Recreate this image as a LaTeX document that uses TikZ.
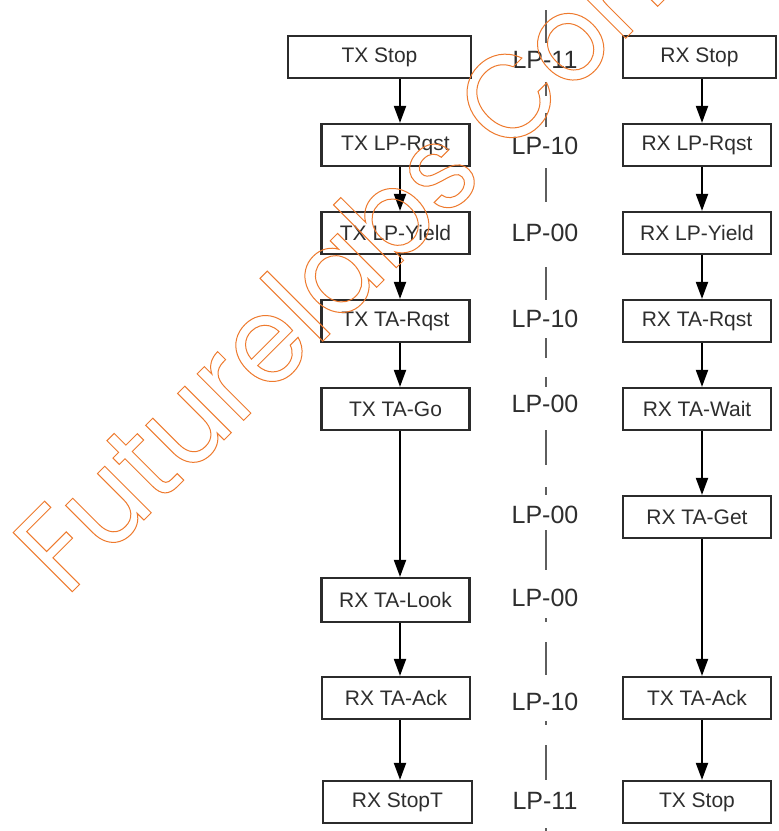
\documentclass[tikz,border=0pt]{standalone}
\usepackage{fontspec}
\setmainfont{Liberation Sans}
\newfontfamily\wmfont[FakeStretch=0.94]{Poppins}
\usetikzlibrary{arrows.meta}
\definecolor{boxline}{HTML}{2B2B2B}
\definecolor{boxtext}{HTML}{2E2E2E}
\definecolor{dashcol}{HTML}{5E5E5E}
\definecolor{wmcol}{HTML}{EE7A2E}
\tikzset{
  statebox/.style={draw=boxline, line width=2.2pt, fill=white, text=boxtext,
    minimum width=148pt, minimum height=42pt, inner sep=0pt,
    font=\fontsize{21}{24}\selectfont},
  lplabel/.style={text=boxtext, inner sep=0pt, font=\fontsize{25}{28}\selectfont},
  flow/.style={draw=black, line width=2pt, -{Triangle[width=12pt,length=17pt]}},
  dashseg/.style={draw=dashcol, line width=2.2pt}
}
\begin{document}
\begin{tikzpicture}[x=1pt,y=-1pt]
\useasboundingbox (0,0) rectangle (779,831);
\fill[white] (0,0) rectangle (779,831);
% column axes
\coordinate (lx) at (400,0);
\coordinate (rx) at (702,0);
% left column
\node[statebox, minimum width=183pt] (t1) at (379.5,57) {TX Stop};
\node[statebox] (t2) at (395.5,145) {TX LP-Rqst};
\node[statebox] (t3) at (395.5,233) {TX LP-Yield};
\node[statebox] (t4) at (395.5,321) {TX TA-Rqst};
\node[statebox] (t5) at (395.5,409) {TX TA-Go};
\node[statebox, minimum height=44pt] (t6) at (395.5,600) {RX TA-Look};
\node[statebox] (t7) at (396,698) {RX TA-Ack};
\node[statebox, minimum width=149pt] (t8) at (397.5,802) {RX StopT};
% right column
\node[statebox, minimum width=153pt] (r1) at (699.5,57) {RX Stop};
\node[statebox] (r2) at (697,145) {RX LP-Rqst};
\node[statebox] (r3) at (697,233) {RX LP-Yield};
\node[statebox] (r4) at (697,321) {RX TA-Rqst};
\node[statebox] (r5) at (697,409) {RX TA-Wait};
\node[statebox] (r6) at (697,517) {RX TA-Get};
\node[statebox] (r7) at (697,698) {TX TA-Ack};
\node[statebox] (r8) at (697,802) {TX Stop};
% arrows left
\draw[flow] (t1.south -| lx) -- (t2.north -| lx);
\draw[flow] (t2.south -| lx) -- (t3.north -| lx);
\draw[flow] (t3.south -| lx) -- (t4.north -| lx);
\draw[flow] (t4.south -| lx) -- (t5.north -| lx);
\draw[flow] (t5.south -| lx) -- (t6.north -| lx);
\draw[flow] (t6.south -| lx) -- (t7.north -| lx);
\draw[flow] (t7.south -| lx) -- (t8.north -| lx);
% arrows right
\draw[flow] (r1.south -| rx) -- (r2.north -| rx);
\draw[flow] (r2.south -| rx) -- (r3.north -| rx);
\draw[flow] (r3.south -| rx) -- (r4.north -| rx);
\draw[flow] (r4.south -| rx) -- (r5.north -| rx);
\draw[flow] (r5.south -| rx) -- (r6.north -| rx);
\draw[flow] (r6.south -| rx) -- (r7.north -| rx);
\draw[flow] (r7.south -| rx) -- (r8.north -| rx);
% dash-dot divider
\foreach \a/\b in {10/43, 82/96, 113/127, 168/202, 267/300, 338/358, 377/387,
  430/465, 487/495, 530/570, 618/622, 642/675, 721/725, 745/780, 828/831}
  \draw[dashseg] (546,\a) -- (546,\b);
% line state labels
\node[lplabel] (l1) at (545,60) {LP-11};
\node[lplabel] (l2) at (545,146) {LP-10};
\node[lplabel] (l3) at (545,233) {LP-00};
\node[lplabel] (l4) at (545,319) {LP-10};
\node[lplabel] (l5) at (545,404) {LP-00};
\node[lplabel] (l6) at (545,515) {LP-00};
\node[lplabel] (l7) at (545,598) {LP-00};
\node[lplabel] (l8) at (545,702) {LP-10};
\node[lplabel] (l9) at (545,801) {LP-11};
% watermark
\node[anchor=base west, rotate=45, inner sep=0pt, text=wmcol,
  font=\wmfont\fontsize{120}{120}\selectfont] (wm) at (66,598)
  {\special{pdf:literal direct 1 Tr 1 w}Futurelabs Con\special{pdf:literal direct 0 Tr}};
\end{tikzpicture}
\end{document}
